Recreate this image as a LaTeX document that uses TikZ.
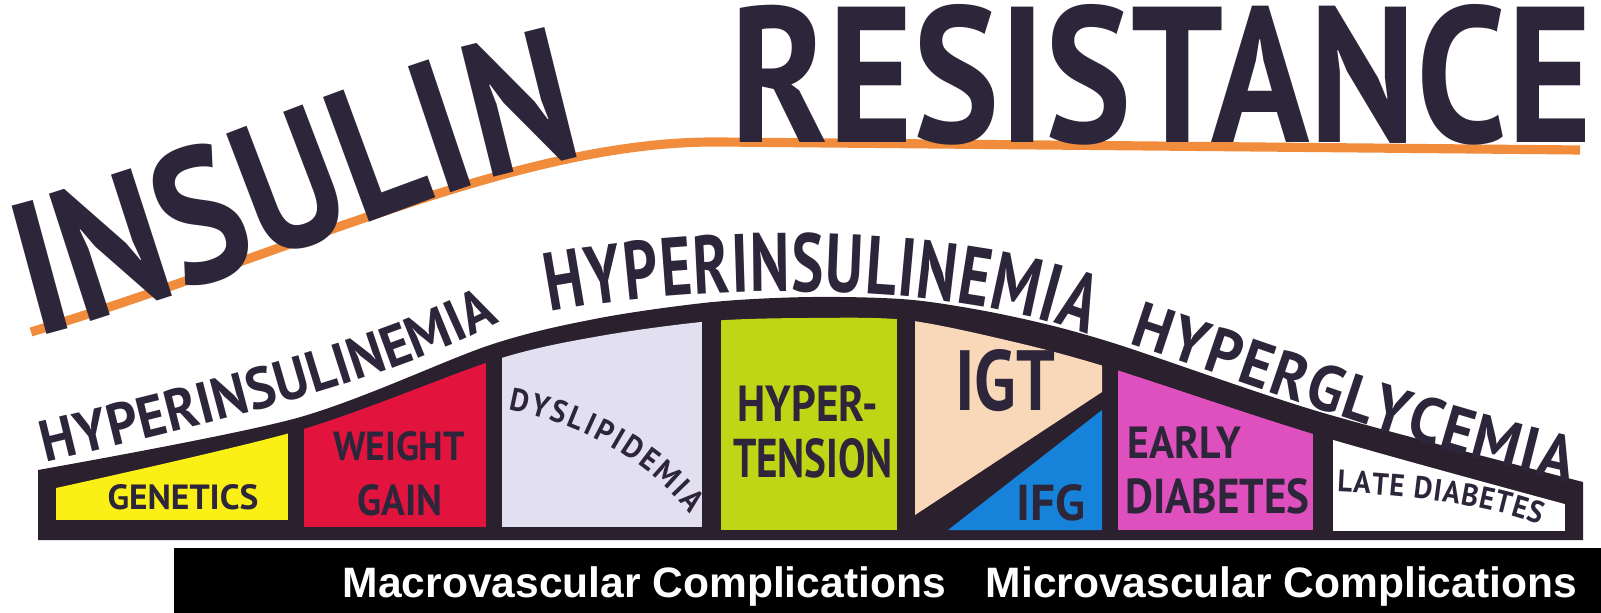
\documentclass[tikz,border=0pt]{standalone}
\usepackage{fontspec}
\usepackage{graphicx}
\usetikzlibrary{decorations.text}

\setmainfont{PT Sans}
\newfontfamily\titlefont[FakeStretch=0.84]{PT Sans}
\newfontfamily\archfont[FakeStretch=0.93]{PT Sans}
\newfontfamily\narrowfont[FakeStretch=0.73]{PT Sans}
\newfontfamily\barfont{Liberation Sans}

\newlength\pxu
\setlength\pxu{0.01cm}

\definecolor{ink}{RGB}{45,38,58}
\definecolor{rim}{RGB}{42,32,46}
\definecolor{geneticscol}{RGB}{250,240,22}
\definecolor{weightcol}{RGB}{226,20,62}
\definecolor{dyslipcol}{RGB}{226,224,240}
\definecolor{tensioncol}{RGB}{190,214,22}
\definecolor{igtcol}{RGB}{248,216,184}
\definecolor{ifgcol}{RGB}{22,130,218}
\definecolor{earlycol}{RGB}{222,80,190}
\definecolor{latecol}{RGB}{255,255,255}
\definecolor{stripe}{RGB}{240,140,60}

% box label squeezed to its width and cap height (in px)
\newcommand\lbl[3]{\resizebox{#1\pxu}{#2\pxu}{\archfont\bfseries #3}}
\newcommand\archtype[2]{\color{ink}#1\bfseries\fontsize{#2}{#2}\selectfont}
\newcommand\insulintype{\archtype\titlefont{54}}
\newcommand\lefttype{\archtype\archfont{16.6}}
\newcommand\midtype{\archtype\narrowfont{23.5}}
\newcommand\glyctype{\archtype\archfont{18.3}}
\newcommand\dystype{\archtype\archfont{9}}
\newcommand\latetype{\archtype\archfont{8.8}}

\begin{document}
\begin{tikzpicture}[x=0.01cm, y=-0.01cm,
    lbltext/.style={inner sep=0pt, text=ink},
    bartext/.style={inner sep=0pt, text=white, font=\barfont\bfseries\fontsize{12.1}{14}\selectfont},
    stripeline/.style={draw=stripe, line width=2.6pt}]
  \useasboundingbox (0,0) rectangle (1601,613);

  % orange stripe and title
  \draw[stripeline] (31,332) .. controls (300,250) and (520,140) .. (720,142) -- (1580,150);
  \path[decorate, decoration={text along path, raise=-0.05cm, text align=fit to path,
      text={|\insulintype|INSULIN}}]
    (34,332) .. controls (240,280) and (450,170) .. (585,152);
  \node[lbltext, anchor=base west, font=\archtype\titlefont{55}] (resist) at (730,143) {RESISTANCE};

  % mound outline
  \fill[rim] plot[smooth] coordinates {(38,470) (297,418) (490,345) (600,318) (713,302)
      (813,297) (913,300) (1010,316) (1110,342) (1320,412) (1583,482)}
    -- (1583,540) -- (38,540) -- cycle;

  % compartments
  \begin{scope}
    \clip plot[smooth] coordinates {(38,492) (297,431) (495,360) (600,336) (712,321)
        (810,318) (906,320) (1010,341) (1110,368) (1323,437) (1583,509)}
      -- (1583,600) -- (38,600) -- cycle;
    \fill[geneticscol] (56,250) rectangle (288,520);
    \fill[weightcol] (304,250) rectangle (486,527);
    \fill[dyslipcol] (502,250) rectangle (702,527);
    \fill[tensioncol] (721,250) rectangle (897,530);
    \fill[igtcol] (915,250) -- (1102,250) -- (1102,392) -- (915,515) -- cycle;
    \fill[ifgcol] (948,530) -- (1102,410) -- (1102,530) -- cycle;
    \fill[earlycol] (1118,250) rectangle (1313,530);
    \fill[latecol] (1333,250) rectangle (1565,531);
  \end{scope}

  % arch texts
  \path[decorate, decoration={text along path, text align=fit to path,
      text={|\lefttype|HYPERINSULINEMIA}}]
    (46,463) .. controls (200,425) and (380,385) .. (500,322);
  \path[decorate, decoration={text along path, text align=fit to path,
      text={|\midtype|HYPERINSULINEMIA}}]
    (550,312) .. controls (700,283) and (950,280) .. (1088,335);
  \path[decorate, decoration={text along path, text align=fit to path,
      text={|\glyctype|HYPERGLYCEMIA}}]
    (1128,344) .. controls (1280,394) and (1430,452) .. (1570,482);

  % box labels
  \node[lbltext, anchor=base] (genetics) at (183,510) {\lbl{151}{25}{GENETICS}};
  \node[lbltext, anchor=base] (weight) at (399,461) {\lbl{132}{29}{WEIGHT}};
  \node[lbltext, anchor=base] (gain) at (400,515) {\lbl{85}{31}{GAIN}};
  \path[decorate, decoration={text along path, text align=fit to path,
      text={|\dystype|DYSLIPIDEMIA}}]
    (508,410) .. controls (575,422) and (645,457) .. (690,514);
  \node[lbltext, anchor=base] (hyper) at (808,422) {\lbl{141}{36}{HYPER-}};
  \node[lbltext, anchor=base] (tension) at (813,478) {\lbl{160}{39}{TENSION}};
  \node[lbltext, anchor=base] (igt) at (1005,411) {\lbl{100}{61}{IGT}};
  \node[lbltext, anchor=base] (ifg) at (1051,521) {\lbl{69}{36}{IFG}};
  \node[lbltext, anchor=base west] (early) at (1127,459) {\lbl{113}{32}{EARLY}};
  \node[lbltext, anchor=base west] (diabetes) at (1125,514) {\lbl{184}{35}{DIABETES}};
  \path[decorate, decoration={text along path, text align=fit to path,
      text={|\latetype|LATE DIABETES}}]
    (1337,492) .. controls (1420,496) and (1490,506) .. (1540,525);

  % complications bar
  \fill[black] (174,548) rectangle (1601,613);
  \node[bartext, anchor=base west] (macro) at (342,597) {Macrovascular Complications};
  \node[bartext, anchor=base west] (micro) at (985,597) {Microvascular Complications};
\end{tikzpicture}
\end{document}
